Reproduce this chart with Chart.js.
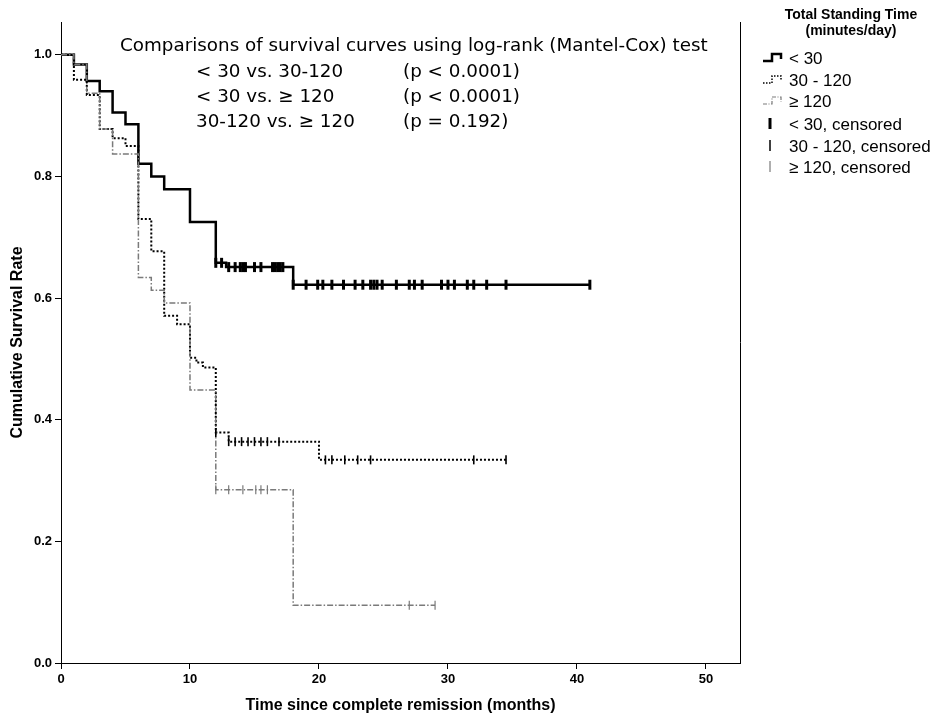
<!DOCTYPE html>
<html><head><meta charset="utf-8">
<script src="https://cdn.jsdelivr.net/npm/chart.js@4/dist/chart.umd.min.js"></script>
<style>html,body{margin:0;padding:0;background:#fff}canvas{display:block}</style>
</head><body>
<canvas id="c" width="939" height="716"></canvas>
<script>
// ---- data ----
const xTicks = [0, 10, 20, 30, 40, 50];
const yTicks = [0, 0.2, 0.4, 0.6, 0.8, 1.0];

const lt30Times = [0, 1, 2, 3, 4, 5, 6, 7, 8, 10, 12, 12.8, 18, 41];
const lt30Surv  = [1, 0.984, 0.957, 0.940, 0.905, 0.886, 0.821, 0.800, 0.779, 0.725, 0.658, 0.651, 0.622, 0.622];
const lt30Censored = [12.0, 12.45, 13.0, 13.5, 13.9, 14.1, 14.3, 15.0, 15.5, 16.4, 16.6, 16.8, 17.0, 17.2,
  18.0, 19.0, 19.9, 20.3, 21.0, 21.9, 22.8, 23.4, 24.0, 24.25, 24.5, 24.9, 26.0, 27.0, 27.4, 28.0,
  29.5, 30.0, 30.5, 31.5, 32.0, 33.0, 34.5, 41.0];

const midTimes = [0, 1, 2, 3, 4, 5, 6, 7, 8, 9, 10, 10.5, 11, 12, 13, 20, 34.5];
const midSurv  = [1, 0.959, 0.934, 0.878, 0.863, 0.850, 0.730, 0.677, 0.571, 0.557, 0.502, 0.494, 0.486, 0.379, 0.364, 0.334, 0.334];
const midCensored = [12.0, 13.0, 13.5, 14.0, 14.5, 15.0, 15.5, 16.0, 16.9, 20.5, 21.0, 22.0, 23.0, 24.0, 32.0, 34.5];

const ge120Times = [0, 1, 2, 3, 4, 6, 7, 8, 10, 12, 18, 29];
const ge120Surv  = [1, 0.984, 0.937, 0.878, 0.837, 0.634, 0.613, 0.592, 0.449, 0.285, 0.095, 0.095];
const ge120Censored = [12.0, 13.0, 14.1, 15.1, 15.5, 16.0, 27.0, 29.0];

const groupLabels = ['< 30', '30 - 120', '\u2265 120'];
const legendTitle = ['Total Standing Time', '(minutes/day)'];
const testTitle = 'Comparisons of survival curves using log-rank (Mantel-Cox) test';
const testRows = ['< 30 vs. 30-120', '< 30 vs. \u2265 120', '30-120 vs. \u2265 120'];
const testP = ['(p < 0.0001)', '(p < 0.0001)', '(p = 0.192)'];

// ---- helpers ----
function pts(ts, ss) { return ts.map((t, i) => ({x: t, y: ss[i]})); }
function survAt(ts, ss, t) { let v = ss[0]; for (let i = 0; i < ts.length; i++) if (ts[i] <= t) v = ss[i]; return v; }
function cens(ts, ss, cs) { return cs.map(t => ({x: t, y: survAt(ts, ss, t)})); }

const GREY = '#7a7a7a';
const DOT = [2, 2];
const DASHDOT = [6, 2, 1.5, 2];

const deco = {
  id: 'deco',
  afterDraw(chart) {
    const ctx = chart.ctx, a = chart.chartArea;
    ctx.save();
    ctx.strokeStyle = '#000'; ctx.lineWidth = 1;
    ctx.beginPath(); ctx.moveTo(a.right + 0.5, a.top); ctx.lineTo(a.right + 0.5, a.bottom); ctx.stroke();

    // test annotation
    ctx.fillStyle = '#000';
    ctx.textBaseline = 'middle'; ctx.textAlign = 'left';
    ctx.font = '16px "DejaVu Sans", Verdana, sans-serif';
    const w = ctx.measureText(testTitle).width;
    const fs = 16 * 588 / w;
    ctx.font = fs.toFixed(2) + 'px "DejaVu Sans", Verdana, sans-serif';
    ctx.fillText(testTitle, 120, 46);
    const rowY = [72, 97, 122];
    testRows.forEach((r, i) => { ctx.fillText(r, 196, rowY[i]); ctx.fillText(testP[i], 403, rowY[i]); });

    // legend
    ctx.textAlign = 'center';
    ctx.font = 'bold 14px "Liberation Sans", Arial, sans-serif';
    ctx.fillText(legendTitle[0], 851, 15);
    ctx.fillText(legendTitle[1], 851, 31);
    ctx.textAlign = 'left';
    ctx.font = '17px "Liberation Sans", Arial, sans-serif';
    const ly = [58, 80, 101, 124, 146, 167];
    const styles = [
      {c: '#000', w: 2.5, d: []},
      {c: '#000', w: 1.5, d: [1.5, 1.5]},
      {c: GREY, w: 1.2, d: [4, 1.5, 1, 1.5]}
    ];
    for (let i = 0; i < 3; i++) {
      const s = styles[i], y = ly[i];
      ctx.strokeStyle = s.c; ctx.lineWidth = s.w; ctx.setLineDash(s.d);
      ctx.beginPath();
      ctx.moveTo(763, y + 3); ctx.lineTo(772, y + 3); ctx.lineTo(772, y - 4); ctx.lineTo(781, y - 4); ctx.lineTo(781, y + 1);
      ctx.stroke();
      ctx.setLineDash([]);
      ctx.fillStyle = '#000';
      ctx.fillText(groupLabels[i], 789, y + 1);
    }
    const cw = [3, 1.5, 1.2], cc = ['#000', '#000', GREY];
    for (let i = 0; i < 3; i++) {
      const y = ly[i + 3];
      ctx.strokeStyle = cc[i]; ctx.lineWidth = cw[i];
      ctx.beginPath(); ctx.moveTo(770, y - 6); ctx.lineTo(770, y + 5); ctx.stroke();
      ctx.fillStyle = '#000';
      ctx.fillText(groupLabels[i] + ', censored', 789, y + 1);
    }
    ctx.restore();
  }
};

const tickFont = {family: '"Liberation Sans Narrow", "Liberation Sans", Arial, sans-serif', size: 13, weight: 'bold'};
const titleFont = {family: '"Liberation Sans", Arial, sans-serif', size: 16, weight: 'bold'};

new Chart(document.getElementById('c'), {
  type: 'line',
  data: {
    datasets: [
      {label: groupLabels[0], data: pts(lt30Times, lt30Surv), stepped: true, borderColor: '#000', borderWidth: 2.5, pointRadius: 0, fill: false, order: 3},
      {label: groupLabels[1], data: pts(midTimes, midSurv), stepped: true, borderColor: '#000', borderWidth: 2, borderDash: DOT, pointRadius: 0, fill: false, order: 2},
      {label: groupLabels[2], data: pts(ge120Times, ge120Surv), stepped: true, borderColor: GREY, borderWidth: 1.5, borderDash: DASHDOT, pointRadius: 0, fill: false, order: 1},
      {type: 'scatter', label: groupLabels[0] + ', censored', data: cens(lt30Times, lt30Surv, lt30Censored), showLine: false,
        pointStyle: 'line', rotation: 90, radius: 5, borderWidth: 3, borderColor: '#000', backgroundColor: '#000'},
      {type: 'scatter', label: groupLabels[1] + ', censored', data: cens(midTimes, midSurv, midCensored), showLine: false,
        pointStyle: 'line', rotation: 90, radius: 4.5, borderWidth: 1.6, borderColor: '#000', backgroundColor: '#000'},
      {type: 'scatter', label: groupLabels[2] + ', censored', data: cens(ge120Times, ge120Surv, ge120Censored), showLine: false,
        pointStyle: 'line', rotation: 90, radius: 4.5, borderWidth: 1.2, borderColor: GREY, backgroundColor: GREY}
    ]
  },
  options: {
    responsive: false, animation: false, devicePixelRatio: 1,
    layout: {padding: {top: 22, right: 199, bottom: 0, left: 0}},
    plugins: {legend: {display: false}, tooltip: {enabled: false}},
    elements: {line: {tension: 0}},
    scales: {
      x: {
        type: 'linear', min: 0, max: 52.64,
        afterFit: s => { s.height = 53; },
        afterBuildTicks: s => { s.ticks = xTicks.map(v => ({value: v})); },
        grid: {display: true, drawOnChartArea: false, drawTicks: true, tickLength: 6, color: '#000', lineWidth: 1},
        border: {display: true, color: '#000', width: 1},
        ticks: {color: '#000', font: tickFont, padding: 3, maxRotation: 0, callback: v => String(v)},
        title: {display: true, text: 'Time since complete remission (months)', color: '#000',
          font: titleFont, padding: {top: 0, bottom: 1}}
      },
      y: {
        type: 'linear', min: 0, max: 1.054,
        afterFit: s => { s.width = 61; },
        afterBuildTicks: s => { s.ticks = yTicks.map(v => ({value: v})); },
        grid: {display: true, drawOnChartArea: false, drawTicks: true, tickLength: 6, color: '#000', lineWidth: 1},
        border: {display: true, color: '#000', width: 1},
        ticks: {color: '#000', font: tickFont, padding: 3, callback: v => Number(v).toFixed(1)},
        title: {display: true, text: 'Cumulative Survival Rate', color: '#000',
          font: titleFont, padding: {top: 8, bottom: 0}}
      }
    }
  },
  plugins: [deco]
});
</script>
</body></html>
